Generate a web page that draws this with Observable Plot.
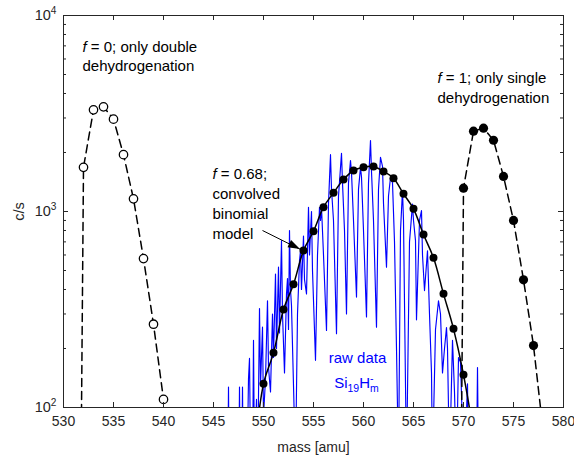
<!DOCTYPE html>
<html><head><meta charset="utf-8">
<script src="https://cdn.jsdelivr.net/npm/d3@7"></script>
<script src="https://cdn.jsdelivr.net/npm/@observablehq/plot@0.6"></script>
<style>
body{margin:0;background:#fff;}
#chart{width:574px;height:458px;}
</style></head><body><div id="chart"></div>
<script>
// f = 0 (double dehydrogenation) series
const doubleMass = [531, 532, 533, 534, 535, 536, 537, 538, 539, 540];
const doubleCps  = [0.001, 1680, 3300, 3420, 2960, 1950, 1160, 575, 266, 110];
// f = 1 (single dehydrogenation) series
const singleMass = [569, 570, 571, 572, 573, 574, 575, 576, 577, 578];
const singleCps  = [0.001, 1315, 2570, 2660, 2310, 1510, 900, 448, 207, 73];
// f = 0.68 convolved binomial model
const modelMass = [549, 550, 551, 552, 553, 554, 555, 556, 557, 558, 559, 560, 561, 562, 563, 564, 565, 566, 567, 568, 569, 570, 571];
const modelCps  = [52, 132, 190, 316, 425, 632, 793, 1052, 1245, 1456, 1619, 1683, 1698, 1600, 1479, 1231, 1032, 763, 580, 380, 252, 147, 75];
// raw data Si19Hm-
const rawMass = [
  546.0,546.4,546.5,546.6,547.5,547.6,547.7,547.8,547.9,548.0,
  548.3,548.5,548.6,548.7,548.9,549.0,549.1,549.3,549.4,549.6,
  549.7,549.9,550.0,550.2,550.4,550.5,550.7,550.9,551.0,551.2,
  551.3,551.5,551.6,551.8,551.9,552.1,552.3,552.4,552.5,552.6,
  552.7,552.8,553.0,553.2,553.4,553.6,553.7,553.8,554.0,554.1,
  554.3,554.5,554.6,554.8,554.9,555.2,555.4,555.6,555.7,555.8,
  556.0,556.3,556.5,556.7,556.8,557.0,557.3,557.5,557.8,557.9,
  558.1,558.3,558.5,558.7,558.8,559.0,559.3,559.5,559.7,559.8,
  560.0,560.3,560.5,560.7,560.8,561.0,561.3,561.5,561.7,561.9,
  562.0,562.3,562.5,562.7,562.9,563.1,563.3,563.5,563.7,563.9,
  564.0,564.3,564.6,564.9,565.0,565.2,565.3,565.6,565.8,565.9,
  566.1,566.4,566.6,566.8,566.9,567.2,567.5,567.7,567.9,568.1,
  568.3,568.4,568.6,568.9,569.1,569.3,569.5,569.7,569.9,570.1,
  570.4,570.5,571.3,571.4,571.5];
const rawCps = [
  30,30,127,30,30,127,30,30,127,30,
  30,140,178,60,40,220,50,110,40,320,
  130,257,90,140,350,160,120,300,180,480,
  200,520,240,710,300,150,380,455,250,800,
  400,330,130,50,300,560,630,400,750,450,
  380,1050,600,1000,500,174,600,1050,900,1050,
  600,247,1100,1950,1300,900,238,1200,1980,1400,
  800,300,1400,1820,1580,900,366,1300,1680,1500,
  800,290,1400,2300,1600,900,257,1300,1890,1700,
  1100,520,1200,1490,1400,700,200,50,800,1280,
  900,50,700,1090,900,710,280,900,1010,600,
  395,630,300,150,50,250,350,300,150,200,
  256,200,50,220,120,50,180,170,80,50,
  132,50,50,160,50];
// ticks
const xTicks = [530, 535, 540, 545, 550, 555, 560, 565, 570, 575, 580];
const yMajor = [100, 1000, 10000];
const yMinor = [200, 300, 400, 500, 600, 700, 800, 900, 2000, 3000, 4000, 5000, 6000, 7000, 8000, 9000];
// annotations (black)
const noteMass = [531.9, 531.9, 567.4, 567.4, 544.9, 544.9, 544.9, 544.9];
const noteCps  = [6890, 5495, 4770, 3773, 1545, 1222, 966, 763];
const noteText = ["*f* = 0; only double", "dehydrogenation", "*f* = 1; only single", "dehydrogenation",
                  "*f* = 0.68;", "convolved", "binomial", "model"];
// annotation (blue)
const rawNoteMass = [559.4, 559.3];
const rawNoteCps  = [179, 133];
const rawNoteText = ["raw data", "Si_{19}H^{-}_{m}"];
// arrow: from text to model point
const arrowMass = [549.9, 553.7];
const arrowCps  = [800, 640];

const zip = (ms, cs) => ms.map((m, i) => ({mass: m, cps: cs[i]}));
const doubleData = zip(doubleMass, doubleCps);
const singleData = zip(singleMass, singleCps);
const modelData = zip(modelMass, modelCps);
const rawData = zip(rawMass, rawCps);
const notes = noteText.map((t, i) => ({mass: noteMass[i], cps: noteCps[i], text: t}));
const rawNotes = rawNoteText.map((t, i) => ({mass: rawNoteMass[i], cps: rawNoteCps[i], text: t}));
const arrowData = [{x1: arrowMass[0], y1: arrowCps[0], x2: arrowMass[1], y2: arrowCps[1]}];
const inRange = d => d.cps >= 100 && d.cps <= 10000;

const font = "'Liberation Sans', Arial, Helvetica, sans-serif";
const axisColor = "#262626";
const W = 574, H = 458, mL = 63, mR = 11, mT = 15, mB = 51;
const innerW = W - mL - mR, innerH = H - mT - mB;
const major = 5, minor = 3;

const plot = Plot.plot({
  width: W, height: H,
  marginLeft: mL, marginRight: mR, marginTop: mT, marginBottom: mB,
  style: {fontFamily: font, fontSize: "14px", color: axisColor, background: "#fff", overflow: "visible"},
  x: {domain: [530, 580]},
  y: {type: "log", domain: [100, 10000]},
  marks: [
    Plot.line(rawData, {x: "mass", y: "cps", stroke: "#0000ff", strokeWidth: 1.15, clip: true}),
    Plot.line(doubleData, {x: "mass", y: "cps", stroke: "#000", strokeWidth: 1.5, strokeDasharray: "8,5", clip: true}),
    Plot.line(singleData, {x: "mass", y: "cps", stroke: "#000", strokeWidth: 1.5, strokeDasharray: "8,5", clip: true}),
    Plot.line(modelData, {x: "mass", y: "cps", stroke: "#000", strokeWidth: 1.5, curve: "catmull-rom", clip: true}),
    Plot.dot(modelData.filter(inRange), {x: "mass", y: "cps", r: 4, fill: "#000"}),
    Plot.dot(doubleData.filter(inRange), {x: "mass", y: "cps", r: 4.2, fill: "#fff", stroke: "#000", strokeWidth: 1.3}),
    Plot.dot(singleData.filter(inRange), {x: "mass", y: "cps", r: 4.6, fill: "#000"}),
    Plot.link(arrowData, {x1: "x1", y1: "y1", x2: "x2", y2: "y2", stroke: "#000", strokeWidth: 1}),
    Plot.text(notes, {x: "mass", y: "cps", text: "text", textAnchor: "start", lineAnchor: "middle", fill: "#000", fontSize: 15}),
    Plot.text(rawNotes, {x: "mass", y: "cps", text: "text", textAnchor: "middle", lineAnchor: "middle", fill: "#0000ff", fontSize: 15}),
    // axis labels
    Plot.axisX({anchor: "bottom", ticks: xTicks, tickSize: 0, tickPadding: 9, tickFormat: d => String(d),
                label: "mass [amu]", labelAnchor: "center", labelOffset: 44, labelArrow: "none", fontSize: 14}),
    Plot.axisY({anchor: "left", ticks: yMajor, tickSize: 0, tickPadding: 7, tickFormat: d => "10^{" + Math.round(Math.log10(d)) + "}",
                label: "c/s", labelAnchor: "center", labelOffset: 50, labelArrow: "none", fontSize: 14.5}),
    // inward ticks on all four sides
    Plot.ruleX(xTicks, {x: d => d, insetTop: innerH - major, stroke: axisColor}),
    Plot.ruleX(xTicks, {x: d => d, insetBottom: innerH - major, stroke: axisColor}),
    Plot.ruleY(yMajor, {y: d => d, insetRight: innerW - major, stroke: axisColor}),
    Plot.ruleY(yMinor, {y: d => d, insetRight: innerW - minor, stroke: axisColor}),
    Plot.ruleY(yMajor, {y: d => d, insetLeft: innerW - major, stroke: axisColor}),
    Plot.ruleY(yMinor, {y: d => d, insetLeft: innerW - minor, stroke: axisColor}),
    Plot.frame({stroke: axisColor, strokeWidth: 1})
  ]
});
document.getElementById("chart").appendChild(plot);

// filled arrowhead drawn through the plot's scales
{
  const sx = plot.scale("x"), sy = plot.scale("y");
  const a = arrowData[0];
  const p1 = [sx.apply(a.x1), sy.apply(a.y1)], p2 = [sx.apply(a.x2), sy.apply(a.y2)];
  const dx = p2[0] - p1[0], dy = p2[1] - p1[1], L = Math.hypot(dx, dy);
  const ux = dx / L, uy = dy / L, nx = -uy, ny = ux;
  const hl = 12, hw = 4;
  const pts = [p2, [p2[0] - hl*ux + hw*nx, p2[1] - hl*uy + hw*ny], [p2[0] - hl*ux - hw*nx, p2[1] - hl*uy - hw*ny]];
  d3.select(plot).append("polygon").attr("points", pts.map(p => p.join(",")).join(" ")).attr("fill", "#000");
}

// rich text: ^{sup}, _{sub}, *italic*
(function richify(svg) {
  const NS = "http://www.w3.org/2000/svg";
  svg.querySelectorAll("text, tspan").forEach(el => {
    if (el.children.length) return;
    const s = el.textContent;
    if (!/\^\{|_\{|\*/.test(s)) return;
    const fs = parseFloat(getComputedStyle(el).fontSize) || 15;
    const tokens = s.match(/\^\{[^}]*\}|_\{[^}]*\}|\*[^*]+\*|[^^_*]+/g);
    el.textContent = "";
    let shift = 0, prev = null, prevKind = null;
    for (const t of tokens) {
      const ts = document.createElementNS(NS, "tspan");
      let target = 0, txt = t, kind = "n";
      if (t.startsWith("^{")) { kind = "sup"; target = -0.42 * fs; txt = t.slice(2, -1); ts.setAttribute("font-size", 0.7 * fs); }
      else if (t.startsWith("_{")) { kind = "sub"; target = 0.25 * fs; txt = t.slice(2, -1); ts.setAttribute("font-size", 0.7 * fs); }
      else if (t.startsWith("*")) { txt = t.slice(1, -1); ts.setAttribute("font-style", "italic"); }
      const d = target - shift;
      if (d) ts.setAttribute("dy", d);
      shift = target;
      ts.textContent = txt;
      el.appendChild(ts);
      if (kind === "sub" && prevKind === "sup" && prev) {
        ts.setAttribute("dx", -prev.getComputedTextLength());
      }
      prev = ts; prevKind = kind;
    }
  });
})(plot);
</script>
</body></html>
